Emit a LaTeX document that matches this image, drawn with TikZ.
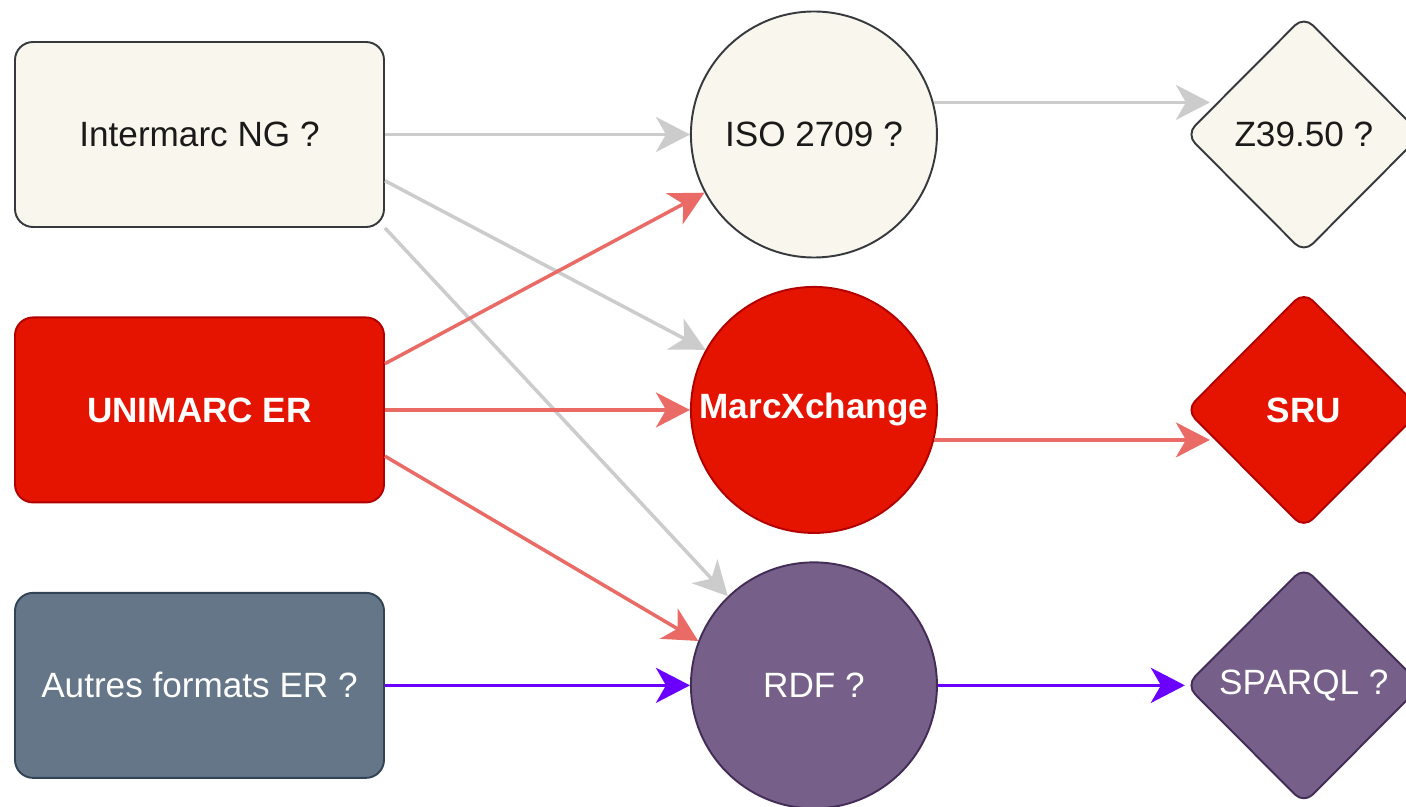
\documentclass[tikz,border=0pt]{standalone}
\usepackage{fontspec}
\setmainfont{Liberation Sans}
\usepackage{tikz}
\usetikzlibrary{positioning}
\usetikzlibrary{arrows.meta}
\usetikzlibrary{shapes.geometric}

\definecolor{lightfill}{HTML}{F9F7ED}
\definecolor{lightdraw}{HTML}{36393D}
\definecolor{darktext}{HTML}{1A1A1A}
\definecolor{redfill}{HTML}{E51400}
\definecolor{reddraw}{HTML}{B20000}
\definecolor{slatefill}{HTML}{647687}
\definecolor{slatedraw}{HTML}{314354}
\definecolor{purplefill}{HTML}{76608A}
\definecolor{purpledraw}{HTML}{432D57}
\definecolor{grayline}{HTML}{CCCCCC}
\definecolor{redline}{HTML}{EA6B66}
\definecolor{purpleline}{HTML}{6A00FF}

\begin{document}
\begin{tikzpicture}[
formatbox/.style={rectangle, rounded corners=0.36cm, draw, line width=1.1pt, minimum width=7.38cm, minimum height=3.7cm, font=\fontsize{20}{24}\selectfont},
exchnode/.style={circle, draw, line width=1.1pt, minimum size=4.92cm, inner sep=0pt, font=\fontsize{20}{24}\selectfont},
protnode/.style={diamond, rounded corners=0.25cm, draw, line width=1.1pt, minimum width=4.72cm, minimum height=4.74cm, inner sep=0pt, font=\fontsize{20}{24}\selectfont},
lightnode/.style={fill=lightfill, draw=lightdraw, text=darktext},
rednode/.style={fill=redfill, draw=reddraw, text=white, font=\fontsize{20}{24}\selectfont\bfseries},
slatenode/.style={fill=slatefill, draw=slatedraw, text=white},
purplenode/.style={fill=purplefill, draw=purpledraw, text=white},
edge/.style={-{Stealth[length=0.68cm, width=0.7cm, inset=0.2cm]}, line width=2pt},
grayedge/.style={draw=grayline, fill=grayline},
rededge/.style={draw=redline, fill=redline},
purpleedge/.style={draw=purpleline, fill=purpleline}
]
\useasboundingbox (-3.99,2.69) rectangle (24.13,-13.45);

%Nodes
\node[formatbox, lightnode]   (intermarc)                              {Intermarc NG ?};
\node[formatbox, rednode]     (unimarc)   [below=1.77cm of intermarc]  {UNIMARC ER};
\node[formatbox, slatenode]   (autres)    [below=1.77cm of unimarc]    {Autres formats ER ?};

\node[exchnode, lightnode]    (iso)       [right=6.1cm of intermarc]   {ISO 2709 ?};
\node[exchnode, rednode]      (marcx)     [right=6.1cm of unimarc]     {MarcXchange};
\node[exchnode, purplenode]   (rdf)       [right=6.1cm of autres]      {RDF ?};

\node[protnode, lightnode]    (z39)       [right=4.94cm of iso]        {Z39.50 ?};
\node[protnode, rednode]      (sru)       [right=4.94cm of marcx]      {SRU};
\node[protnode, purplenode]   (sparql)    [right=4.94cm of rdf]        {SPARQL ?};

\coordinate (z39in) at ([xshift=0.5cm]z39.west |- iso.15);
\coordinate (sruin) at ([xshift=0.5cm]sru.west |- marcx.-14.6);

%Lines
\draw[edge, grayedge] (intermarc.east) -- (iso.west);
\draw[edge, grayedge] (intermarc.-14.6) -- (marcx.151);
\draw[edge, grayedge] (intermarc.south east) -- (rdf.134);

\draw[edge, rededge] (unimarc.14.6) -- (iso.208);
\draw[edge, rededge] (unimarc.east) -- (marcx.west);
\draw[edge, rededge] (unimarc.-14.6) -- (rdf.159);

\draw[edge, purpleedge] (autres.east) -- (rdf.west);

\draw[edge, grayedge] (iso.15) -- (z39in);
\draw[edge, rededge] (marcx.-14.6) -- (sruin);
\draw[edge, purpleedge] (rdf.east) -- (sparql.west);

\end{tikzpicture}
\end{document}
